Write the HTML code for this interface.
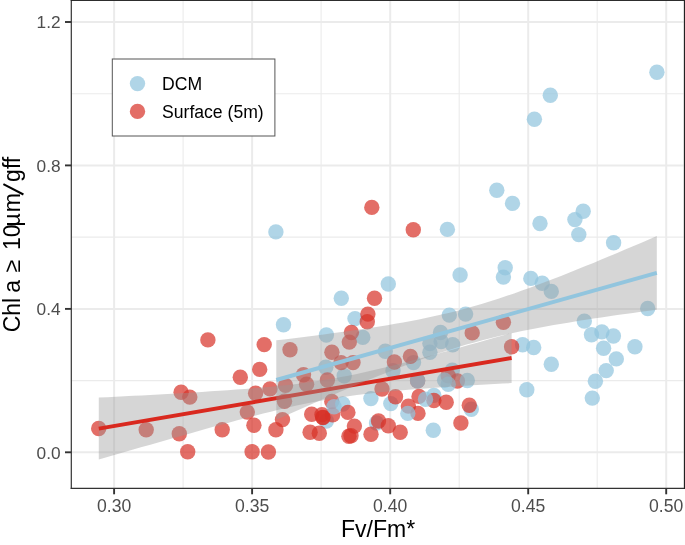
<!DOCTYPE html>
<html><head><meta charset="utf-8"><title>chart</title>
<style>
html,body{margin:0;padding:0;background:#fff;}
body{width:685px;height:545px;overflow:hidden;position:relative;}
svg{position:absolute;left:0;top:0;display:block;will-change:transform;}
text{font-family:"Liberation Sans",sans-serif;}
</style></head><body>
<svg width="685" height="545" viewBox="0 0 685 545">
<rect x="0" y="0" width="685" height="545" fill="#fff"/>

<g stroke="#ebebeb" fill="none">
<line x1="183.1" x2="183.1" y1="0.4" y2="488.3" stroke-width="1.1"/>
<line x1="321.1" x2="321.1" y1="0.4" y2="488.3" stroke-width="1.1"/>
<line x1="459.2" x2="459.2" y1="0.4" y2="488.3" stroke-width="1.1"/>
<line x1="597.2" x2="597.2" y1="0.4" y2="488.3" stroke-width="1.1"/>
<line y1="380.6" y2="380.6" x1="71.3" x2="683.5" stroke-width="1.1"/>
<line y1="237.1" y2="237.1" x1="71.3" x2="683.5" stroke-width="1.1"/>
<line y1="93.7" y2="93.7" x1="71.3" x2="683.5" stroke-width="1.1"/>
<line x1="114.1" x2="114.1" y1="0.4" y2="488.3" stroke-width="2.0"/>
<line x1="252.1" x2="252.1" y1="0.4" y2="488.3" stroke-width="2.0"/>
<line x1="390.2" x2="390.2" y1="0.4" y2="488.3" stroke-width="2.0"/>
<line x1="528.2" x2="528.2" y1="0.4" y2="488.3" stroke-width="2.0"/>
<line x1="666.2" x2="666.2" y1="0.4" y2="488.3" stroke-width="2.0"/>
<line y1="452.3" y2="452.3" x1="71.3" x2="683.5" stroke-width="2.0"/>
<line y1="308.9" y2="308.9" x1="71.3" x2="683.5" stroke-width="2.0"/>
<line y1="165.4" y2="165.4" x1="71.3" x2="683.5" stroke-width="2.0"/>
<line y1="22.0" y2="22.0" x1="71.3" x2="683.5" stroke-width="2.0"/>
</g>
<g fill="rgba(146,197,222,0.72)">
<circle cx="656.9" cy="72.2" r="7.7"/>
<circle cx="550.3" cy="95.2" r="7.7"/>
<circle cx="534.4" cy="119.3" r="7.7"/>
<circle cx="496.8" cy="190.2" r="7.7"/>
<circle cx="512.5" cy="203.4" r="7.7"/>
<circle cx="540" cy="223.5" r="7.7"/>
<circle cx="583.2" cy="211.3" r="7.7"/>
<circle cx="574.9" cy="219.6" r="7.7"/>
<circle cx="578.8" cy="234.6" r="7.7"/>
<circle cx="613.6" cy="242.8" r="7.7"/>
<circle cx="447.4" cy="229.4" r="7.7"/>
<circle cx="505.2" cy="267.7" r="7.7"/>
<circle cx="275.9" cy="231.9" r="7.7"/>
<circle cx="388.3" cy="284" r="7.7"/>
<circle cx="341.3" cy="298.2" r="7.7"/>
<circle cx="283.5" cy="324.7" r="7.7"/>
<circle cx="355" cy="318.6" r="7.7"/>
<circle cx="326.4" cy="335" r="7.7"/>
<circle cx="362.8" cy="337.4" r="7.7"/>
<circle cx="385.3" cy="351.3" r="7.7"/>
<circle cx="325.8" cy="367.3" r="7.7"/>
<circle cx="344.2" cy="375.8" r="7.7"/>
<circle cx="393" cy="370.7" r="7.7"/>
<circle cx="370.9" cy="398.6" r="7.7"/>
<circle cx="390.8" cy="403.6" r="7.7"/>
<circle cx="326.4" cy="421" r="7.7"/>
<circle cx="376.5" cy="423" r="7.7"/>
<circle cx="460.1" cy="275" r="7.7"/>
<circle cx="503.4" cy="277.1" r="7.7"/>
<circle cx="530.8" cy="278.4" r="7.7"/>
<circle cx="449.3" cy="315.1" r="7.7"/>
<circle cx="465.6" cy="314.1" r="7.7"/>
<circle cx="440.5" cy="332.5" r="7.7"/>
<circle cx="429.9" cy="343.5" r="7.7"/>
<circle cx="441.1" cy="341.5" r="7.7"/>
<circle cx="452.7" cy="344.8" r="7.7"/>
<circle cx="429.9" cy="352.3" r="7.7"/>
<circle cx="413.5" cy="362.6" r="7.7"/>
<circle cx="452.3" cy="370.3" r="7.7"/>
<circle cx="522.6" cy="344.7" r="7.7"/>
<circle cx="526.8" cy="389.7" r="7.7"/>
<circle cx="433.9" cy="395.4" r="7.7"/>
<circle cx="471.3" cy="409.3" r="7.7"/>
<circle cx="433.3" cy="430.2" r="7.7"/>
<circle cx="542.2" cy="283.2" r="7.7"/>
<circle cx="551.3" cy="291.4" r="7.7"/>
<circle cx="647.7" cy="308.5" r="7.7"/>
<circle cx="584.3" cy="321.1" r="7.7"/>
<circle cx="591.5" cy="334.8" r="7.7"/>
<circle cx="601.9" cy="331.9" r="7.7"/>
<circle cx="613.4" cy="336" r="7.7"/>
<circle cx="634.9" cy="346.8" r="7.7"/>
<circle cx="603.6" cy="348.3" r="7.7"/>
<circle cx="616.3" cy="358.9" r="7.7"/>
<circle cx="606.2" cy="370.6" r="7.7"/>
<circle cx="595.4" cy="381.2" r="7.7"/>
<circle cx="551.3" cy="364.3" r="7.7"/>
<circle cx="533.7" cy="347.5" r="7.7"/>
<circle cx="592.3" cy="398.1" r="7.7"/>
</g>
<g fill="rgba(215,48,39,0.70)">
<circle cx="413.3" cy="229.7" r="7.7"/>
<circle cx="371.8" cy="207.4" r="7.7"/>
<circle cx="374.5" cy="298.2" r="7.7"/>
<circle cx="98.7" cy="428.5" r="7.7"/>
<circle cx="146.2" cy="429.8" r="7.7"/>
<circle cx="179.3" cy="433.7" r="7.7"/>
<circle cx="187.7" cy="451.8" r="7.7"/>
<circle cx="181.1" cy="392.2" r="7.7"/>
<circle cx="189.8" cy="397.1" r="7.7"/>
<circle cx="207.9" cy="339.9" r="7.7"/>
<circle cx="222.2" cy="429.8" r="7.7"/>
<circle cx="240.3" cy="377.2" r="7.7"/>
<circle cx="247.3" cy="412.1" r="7.7"/>
<circle cx="253.9" cy="425.3" r="7.7"/>
<circle cx="252.1" cy="451.8" r="7.7"/>
<circle cx="268.4" cy="452" r="7.7"/>
<circle cx="259.7" cy="369.4" r="7.7"/>
<circle cx="264.2" cy="344.6" r="7.7"/>
<circle cx="255.6" cy="393.2" r="7.7"/>
<circle cx="270" cy="388.9" r="7.7"/>
<circle cx="275.9" cy="429.8" r="7.7"/>
<circle cx="367.9" cy="314.1" r="7.7"/>
<circle cx="367.3" cy="321.7" r="7.7"/>
<circle cx="351.4" cy="332.5" r="7.7"/>
<circle cx="349.3" cy="342.1" r="7.7"/>
<circle cx="290" cy="349.7" r="7.7"/>
<circle cx="331.9" cy="352.3" r="7.7"/>
<circle cx="341.1" cy="362.6" r="7.7"/>
<circle cx="353" cy="362.6" r="7.7"/>
<circle cx="394.4" cy="362" r="7.7"/>
<circle cx="303.5" cy="374.8" r="7.7"/>
<circle cx="327.4" cy="380" r="7.7"/>
<circle cx="306.6" cy="384.3" r="7.7"/>
<circle cx="285.5" cy="385.4" r="7.7"/>
<circle cx="382" cy="389" r="7.7"/>
<circle cx="395.5" cy="396.8" r="7.7"/>
<circle cx="331.8" cy="401.5" r="7.7"/>
<circle cx="284.5" cy="401.2" r="7.7"/>
<circle cx="282.5" cy="419.6" r="7.7"/>
<circle cx="311.7" cy="414.2" r="7.7"/>
<circle cx="322.0" cy="414.6" r="7.7"/>
<circle cx="322.7" cy="417.4" r="7.7"/>
<circle cx="323.0" cy="417.6" r="7.7"/>
<circle cx="332.6" cy="414.9" r="7.7"/>
<circle cx="310.1" cy="432.2" r="7.7"/>
<circle cx="319.3" cy="433.2" r="7.7"/>
<circle cx="354.4" cy="426.1" r="7.7"/>
<circle cx="348.9" cy="436.3" r="7.7"/>
<circle cx="351" cy="435.7" r="7.7"/>
<circle cx="371" cy="434.3" r="7.7"/>
<circle cx="378.5" cy="421" r="7.7"/>
<circle cx="388.3" cy="425.7" r="7.7"/>
<circle cx="400.2" cy="432.2" r="7.7"/>
<circle cx="503.4" cy="322.3" r="7.7"/>
<circle cx="472.2" cy="332.9" r="7.7"/>
<circle cx="511.6" cy="346.8" r="7.7"/>
<circle cx="410.4" cy="356.4" r="7.7"/>
<circle cx="457.4" cy="381" r="7.7"/>
<circle cx="448.2" cy="375.8" r="7.7"/>
<circle cx="419" cy="396.4" r="7.7"/>
<circle cx="433.9" cy="400.5" r="7.7"/>
<circle cx="446.2" cy="402.2" r="7.7"/>
<circle cx="408.4" cy="406.1" r="7.7"/>
<circle cx="418" cy="413.4" r="7.7"/>
<circle cx="469.3" cy="405.2" r="7.7"/>
<circle cx="460.9" cy="423" r="7.7"/>
<circle cx="417.6" cy="380.8" r="7.7"/>
</g>
<g fill="rgba(146,197,222,0.72)">
<circle cx="342.8" cy="404" r="7.7"/>
<circle cx="334" cy="406.7" r="7.7"/>
<circle cx="425.5" cy="399.2" r="7.7"/>
<circle cx="407.8" cy="413.4" r="7.7"/>
<circle cx="417.6" cy="380.8" r="7.7"/>
<circle cx="444.6" cy="380.3" r="7.7"/>
<circle cx="448.2" cy="384.3" r="7.7"/>
<circle cx="467.3" cy="380.5" r="7.7"/>
</g>
<g fill="rgba(215,48,39,0.70)">
<circle cx="347.9" cy="412.4" r="7.7"/>
</g>
<polygon fill="rgba(153,153,153,0.4)" points="98.8,397.6 107.4,397.2 116.0,396.7 124.6,396.3 133.2,395.8 141.8,395.4 150.4,394.9 159.0,394.4 167.6,393.9 176.2,393.4 184.8,392.9 193.4,392.4 202.0,391.9 210.6,391.3 219.2,390.8 227.8,390.2 236.4,389.5 245.0,388.9 253.6,388.2 262.2,387.5 270.8,386.7 279.4,385.8 288.0,384.9 296.6,383.9 305.2,382.8 313.8,381.6 322.4,380.3 331.0,378.9 339.6,377.3 348.2,375.7 356.8,373.9 365.4,372.0 374.0,370.1 382.6,368.0 391.2,365.9 399.8,363.8 408.4,361.6 417.0,359.3 425.6,357.0 434.2,354.7 442.8,352.3 451.4,349.9 460.0,347.5 468.6,345.1 477.2,342.7 485.8,340.3 494.4,337.8 503.0,335.4 511.6,332.9 511.6,383.1 503.0,383.6 494.4,384.1 485.8,384.6 477.2,385.1 468.6,385.6 460.0,386.1 451.4,386.7 442.8,387.2 434.2,387.8 425.6,388.4 417.0,389.1 408.4,389.8 399.8,390.5 391.2,391.3 382.6,392.1 374.0,393.0 365.4,394.0 356.8,395.0 348.2,396.2 339.6,397.5 331.0,398.9 322.4,400.4 313.8,402.0 305.2,403.8 296.6,405.6 288.0,407.6 279.4,409.6 270.8,411.7 262.2,413.8 253.6,416.1 245.0,418.3 236.4,420.6 227.8,422.9 219.2,425.3 210.6,427.6 202.0,430.0 193.4,432.4 184.8,434.9 176.2,437.3 167.6,439.7 159.0,442.2 150.4,444.7 141.8,447.1 133.2,449.6 124.6,452.1 116.0,454.6 107.4,457.1 98.8,459.6"/>
<line x1="98.8" y1="428.6" x2="511.6" y2="358.0" stroke="#d9291f" stroke-width="3.9"/>
<polygon fill="rgba(153,153,153,0.4)" points="276.3,340.3 284.2,339.4 292.2,338.4 300.1,337.4 308.0,336.4 315.9,335.4 323.9,334.4 331.8,333.3 339.7,332.3 347.6,331.2 355.6,330.0 363.5,328.9 371.4,327.7 379.4,326.4 387.3,325.2 395.2,323.8 403.1,322.4 411.1,321.0 419.0,319.4 426.9,317.8 434.8,316.1 442.8,314.3 450.7,312.4 458.6,310.4 466.5,308.3 474.5,306.0 482.4,303.7 490.3,301.3 498.3,298.7 506.2,296.1 514.1,293.4 522.0,290.6 530.0,287.7 537.9,284.8 545.8,281.8 553.7,278.7 561.7,275.7 569.6,272.5 577.5,269.3 585.5,266.1 593.4,262.9 601.3,259.6 609.2,256.3 617.2,253.0 625.1,249.6 633.0,246.3 640.9,242.9 648.9,239.5 656.8,236.1 656.8,309.7 648.9,310.7 640.9,311.8 633.0,312.9 625.1,314.0 617.2,315.1 609.2,316.3 601.3,317.4 593.4,318.6 585.5,319.8 577.5,321.1 569.6,322.4 561.7,323.7 553.7,325.0 545.8,326.5 537.9,327.9 530.0,329.5 522.0,331.1 514.1,332.7 506.2,334.5 498.3,336.3 490.3,338.2 482.4,340.3 474.5,342.4 466.5,344.6 458.6,347.0 450.7,349.4 442.8,352.0 434.8,354.6 426.9,357.4 419.0,360.2 411.1,363.2 403.1,366.2 395.2,369.2 387.3,372.4 379.4,375.5 371.4,378.8 363.5,382.0 355.6,385.3 347.6,388.7 339.7,392.0 331.8,395.4 323.9,398.8 315.9,402.3 308.0,405.7 300.1,409.2 292.2,412.7 284.2,416.2 276.3,419.7"/>
<line x1="276.3" y1="380.0" x2="656.8" y2="272.9" stroke="#92c5de" stroke-width="4"/>
<g stroke="#333" stroke-width="1.2" fill="none"><line x1="71.3" y1="0" x2="71.3" y2="488.90000000000003"/><line x1="70.7" y1="488.3" x2="685" y2="488.3"/></g>
<rect x="70.7" y="0" width="614.3000000000001" height="0.95" fill="#222"/>
<rect x="683.85" y="0" width="1.15" height="488.90000000000003" fill="#222"/>
<g stroke="#333" stroke-width="1.9">
<line x1="114.1" x2="114.1" y1="488.3" y2="494.3"/>
<line x1="252.1" x2="252.1" y1="488.3" y2="494.3"/>
<line x1="390.2" x2="390.2" y1="488.3" y2="494.3"/>
<line x1="528.2" x2="528.2" y1="488.3" y2="494.3"/>
<line x1="666.2" x2="666.2" y1="488.3" y2="494.3"/>
<line y1="452.3" y2="452.3" x1="65.0" x2="71.3"/>
<line y1="308.9" y2="308.9" x1="65.0" x2="71.3"/>
<line y1="165.4" y2="165.4" x1="65.0" x2="71.3"/>
<line y1="22.0" y2="22.0" x1="65.0" x2="71.3"/>
</g>
<g fill="#4d4d4d" font-size="17.6px">
<text x="114.1" y="511.6" text-anchor="middle">0.30</text>
<text x="252.1" y="511.6" text-anchor="middle">0.35</text>
<text x="390.2" y="511.6" text-anchor="middle">0.40</text>
<text x="528.2" y="511.6" text-anchor="middle">0.45</text>
<text x="666.2" y="511.6" text-anchor="middle">0.50</text>
<text x="60.6" y="458.6" text-anchor="end" font-size="17.3px">0.0</text>
<text x="60.6" y="315.2" text-anchor="end" font-size="17.3px">0.4</text>
<text x="60.6" y="171.7" text-anchor="end" font-size="17.3px">0.8</text>
<text x="60.6" y="28.3" text-anchor="end" font-size="17.3px">1.2</text>
</g>
<text x="378.0" y="537.2" text-anchor="middle" font-size="23.05px" fill="#000">Fv/Fm*</text>
<g transform="translate(19.8,331.5) rotate(-90)" font-size="23px" fill="#000">
<text x="-0.8" y="0">Chl</text>
<text x="38.7" y="0">a</text>
<text x="59.0" y="0">≥</text>
<text x="81.5" y="0">10</text>
<text x="104.9" y="0">µ</text>
<text x="119.3" y="0">m</text>
<line x1="137.0" y1="3.6" x2="147.4" y2="-16.4" stroke="#000" stroke-width="2.0"/>
<text x="149.6" y="0">gff</text>
</g>
<rect x="112.3" y="59" width="162.6" height="77.0" fill="#fff" stroke="#555" stroke-width="1"/>
<circle cx="137.5" cy="83.6" r="7.7" fill="rgba(146,197,222,0.72)"/>
<circle cx="137.5" cy="111.4" r="7.7" fill="rgba(215,48,39,0.70)"/>
<g font-size="17.6px" fill="#000"><text x="162.0" y="90.0">DCM</text><text x="162.0" y="117.8">Surface (5m)</text></g>
</svg></body></html>
